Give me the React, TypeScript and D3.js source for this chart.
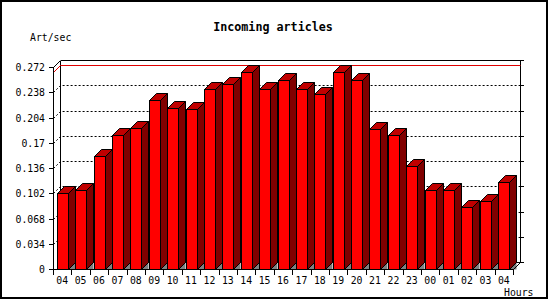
import React from "react";
import * as d3 from "d3";

const hours = ["04","05","06","07","08","09","10","11","12","13","14","15","16","17","18","19","20","21","22","23","00","01","02","03","04"];
const values = [0.103,0.107,0.152,0.180,0.190,0.228,0.217,0.215,0.242,0.249,0.265,0.242,0.254,0.242,0.235,0.265,0.255,0.189,0.180,0.139,0.106,0.107,0.083,0.091,0.117];
const yTicks = [0, 0.034, 0.068, 0.102, 0.136, 0.17, 0.204, 0.238, 0.272];
const yTickLabels = ["0","0.034","0.068","0.102","0.136","0.17","0.204","0.238","0.272"];
const title = "Incoming articles";
const yLabel = "Art/sec";
const xLabel = "Hours";

const W = 550, H = 300;
const L = 53, R = 513, B = 269, T = 67, D = 7;
const mono = "'DejaVu Sans Mono', 'Liberation Mono', monospace";

export default function App() {
  const x = d3.scaleBand<number>().domain(d3.range(hours.length)).range([L, R]).padding(0);
  const y = d3.scaleLinear().domain([0, 0.272]).range([B, T]);
  const bw = x.bandwidth();
  const maxV = d3.max(values) as number;
  const barW = 11;

  return (
    <svg width={W} height={H} style={{ position: "absolute", left: 0, top: 0, background: "#fff" }}
      fontFamily={mono}>
      <rect x={1} y={1} width={546} height={297} fill="#fff" stroke="#000" strokeWidth={2} />
      <text x={273} y={27} textAnchor="middle" dominantBaseline="central" fontSize={11.7} fontWeight="bold">{title}</text>
      <text x={30} y={37.5} dominantBaseline="central" fontSize={9.8}>{yLabel}</text>
      <text x={504} y={292} dominantBaseline="central" fontSize={9.8}>{xLabel}</text>

      {/* back panel */}
      <g shapeRendering="crispEdges" stroke="#000" fill="none">
        <line x1={L + D + 0.5} y1={T - D + 0.5} x2={R + D + 0.5} y2={T - D + 0.5} />
        <line x1={L + D + 0.5} y1={T - D + 0.5} x2={L + D + 0.5} y2={B - D + 0.5} />
        <line x1={R + D + 0.5} y1={T - D + 0.5} x2={R + D + 0.5} y2={B - D + 0.5} />
        <line x1={L + D + 0.5} y1={B - D + 0.5} x2={R + D + 0.5} y2={B - D + 0.5} />
        {yTicks.map((t, i) => (
          <line key={"rt" + i} x1={R + D + 0.5} y1={Math.round(y(t)) - D + 0.5} x2={R + D + 4} y2={Math.round(y(t)) - D + 0.5} />
        ))}
      </g>
      {/* gridlines */}
      <g fill="none" stroke="#000" strokeDasharray="2,2">
        {yTicks.slice(1, -1).map((t, i) => {
          const yy = Math.round(y(t)) + 0.5;
          return <polyline key={"g" + i} points={`${L + 0.5},${yy} ${L + D + 0.5},${yy - D} ${R + D + 0.5},${yy - D}`} />;
        })}
      </g>
      {/* max line */}
      {(() => {
        const yy = Math.round(y(maxV)) + 0.5;
        return <polyline fill="none" stroke="#e00000" points={`${L + 0.5},${yy} ${L + D + 0.5},${yy - D} ${R + D + 0.5},${yy - D}`} />;
      })()}

      {/* bars */}
      <g stroke="#000" strokeWidth={1} strokeLinejoin="miter">
        {values.map((v, i) => {
          const cx = (x(i) as number) + bw / 2;
          const x0 = Math.round(cx - barW / 2) + 0.5;
          const x1 = x0 + barW;
          const yt = Math.round(y(v)) + 0.5;
          const yb = B + 0.5;
          return (
            <g key={i}>
              <polygon fill="#808080" stroke="none" points={`${x1},${yb} ${x1 + D},${yb - D} ${x1 + D},${yb}`} />
              <polygon fill="#800000" points={`${x1},${yt} ${x1 + D},${yt - D} ${x1 + D},${yb - D} ${x1},${yb}`} />
              <polygon fill="#c00000" points={`${x0},${yt} ${x0 + D},${yt - D} ${x1 + D},${yt - D} ${x1},${yt}`} />
              <rect x={x0} y={yt} width={barW} height={yb - yt} fill="#ff0000" />
            </g>
          );
        })}
      </g>

      {/* front axes */}
      <g shapeRendering="crispEdges" stroke="#000" fill="none">
        <line x1={L + 0.5} y1={T + 0.5} x2={L + 0.5} y2={B + 0.5} />
        <line x1={L + 0.5} y1={B + 0.5} x2={R + 0.5} y2={B + 0.5} />
        {yTicks.map((t, i) => (
          <line key={"lt" + i} x1={L - 4} y1={Math.round(y(t)) + 0.5} x2={L + 0.5} y2={Math.round(y(t)) + 0.5} />
        ))}
        {d3.range(hours.length + 1).map((i) => {
          const xx = Math.round(L + i * bw) + 0.5;
          return <line key={"xt" + i} x1={xx} y1={B + 0.5} x2={xx} y2={B + 6} />;
        })}
      </g>
      <g fill="none" stroke="#000">
        <line x1={L + 0.5} y1={T + 0.5} x2={L + D + 0.5} y2={T - D + 0.5} />
        <line x1={R + 0.5} y1={B + 0.5} x2={R + D + 0.5} y2={B - D + 0.5} />
      </g>

      {/* labels */}
      <g fontSize={9.8} fill="#000">
        {yTicks.map((t, i) => (
          <text key={"yl" + i} x={45} y={Math.round(y(t))} textAnchor="end" dominantBaseline="central">{yTickLabels[i]}</text>
        ))}
        {hours.map((h, i) => (
          <text key={"xl" + i} x={(x(i) as number) + bw / 2} y={280} textAnchor="middle" dominantBaseline="central">{h}</text>
        ))}
      </g>
    </svg>
  );
}
